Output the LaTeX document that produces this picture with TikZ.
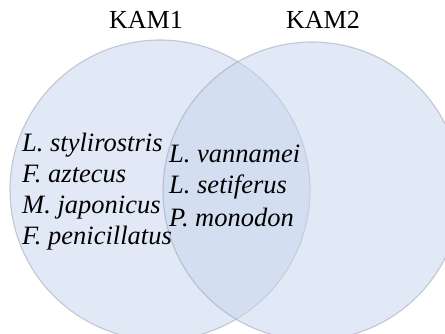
\documentclass[tikz,border=0pt]{standalone}
\usepackage{fontspec}
\setmainfont{Liberation Serif}
\definecolor{vennfill}{RGB}{198,213,238}
\definecolor{vennline}{RGB}{150,156,172}
\begin{document}
\begin{tikzpicture}[x=1pt,y=-1pt,
  venn/.style={fill=vennfill,fill opacity=0.5,draw=vennline,draw opacity=0.5,line width=1.1pt},
  title/.style={font=\fontsize{26}{30}\selectfont,anchor=base,inner sep=0pt},
  species/.style={font=\fontsize{26.5}{30}\selectfont\itshape,anchor=base west,inner sep=0pt}]
\useasboundingbox (0,0) rectangle (445,334);
\fill[white] (0,0) rectangle (445,334);
\path[venn] (160,190) circle[radius=150];
\path[venn] (312,191) circle[radius=149];
\node[title] (k1) at (146,29) {KAM1};
\node[title] (k2) at (323,29) {KAM2};
\node[species] (a1) at (22,152) {L. stylirostris};
\node[species] (a2) at (22,183) {F. aztecus};
\node[species] (a3) at (22,214) {M. japonicus};
\node[species] (a4) at (22,245) {F. penicillatus};
\node[species] (b1) at (169,163) {L. vannamei};
\node[species] (b2) at (169,194) {L. setiferus};
\node[species] (b3) at (169,226) {P. monodon};
\end{tikzpicture}
\end{document}
